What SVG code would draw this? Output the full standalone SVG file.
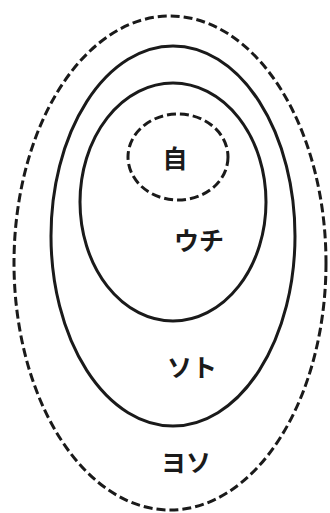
<svg xmlns="http://www.w3.org/2000/svg" width="330" height="513" viewBox="0 0 330 513">
<style>
.dash{fill:none;stroke:#1a1a1a;stroke-width:3;stroke-dasharray:9 4}
.solid{fill:none;stroke:#1a1a1a;stroke-width:3}
.lbl{font-family:"Noto Sans CJK JP","Noto Sans CJK SC",sans-serif;font-size:25px;font-weight:bold;fill:#1a1a1a;text-anchor:middle;dominant-baseline:central}
</style>
<rect width="330" height="513" fill="#ffffff"/>
<g id="yoso">
<ellipse class="dash" cx="170" cy="263" rx="156" ry="247"/>
<text class="lbl" x="186" y="461">ヨソ</text>
</g>
<g id="soto">
<ellipse class="solid" cx="173" cy="236" rx="122" ry="190"/>
<text class="lbl" x="192" y="366">ソト</text>
</g>
<g id="uchi">
<ellipse class="solid" cx="173" cy="202" rx="93" ry="119"/>
<text class="lbl" x="199" y="239">ウチ</text>
</g>
<g id="ji">
<ellipse class="dash" cx="178" cy="157" rx="50" ry="43"/>
<text class="lbl" x="175" y="157">自</text>
</g>
</svg>
